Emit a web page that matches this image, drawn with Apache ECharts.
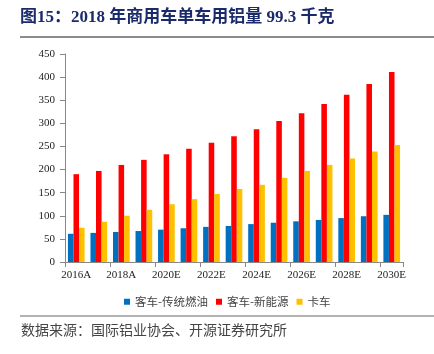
<!DOCTYPE html>
<html>
<head>
<meta charset="utf-8">
<script src="https://cdn.jsdelivr.net/npm/echarts@6/dist/echarts.min.js"></script>
<style>
  html, body { margin: 0; padding: 0; background: #fff; }
  #chart { width: 434px; height: 354px; }
</style>
</head>
<body>
<div id="chart"></div>
<script>
const years = ['2016A', '2017A', '2018A', '2019E', '2020E', '2021E', '2022E', '2023E',
  '2024E', '2025E', '2026E', '2027E', '2028E', '2029E', '2030E']
const busFuel = [61, 63, 65, 67, 70, 73, 76, 78, 82, 85, 88, 91, 95, 99, 102]
const busNev = [190, 197, 210, 221, 233, 245, 258, 272, 287, 305, 322, 342, 362, 385, 411]
const truck = [74, 87, 100, 113, 125, 136, 147, 158, 167, 182, 197, 210, 224, 239, 253]
const seriesNames = ['客车-传统燃油', '客车-新能源', '卡车']
const colors = ['#0070C0', '#FF0000', '#FFC000']

const chart = echarts.init(document.getElementById('chart'))
const serif = '"Liberation Serif", "Times New Roman", serif'
const cjk = '"Liberation Serif", "Noto Sans CJK SC", serif'

const option = {
  animation: false,
  title: [{
    text: '图15：2018 年商用车单车用铝量 99.3 千克',
    left: 20,
    top: 9,
    padding: 0,
    textStyle: { fontFamily: cjk, fontSize: 17, fontWeight: 'bold', color: '#1B2A6B' }
  }, {
    text: '数据来源：国际铝业协会、开源证券研究所',
    left: 21,
    top: 323,
    padding: 0,
    textStyle: { fontFamily: '"Noto Sans CJK SC", sans-serif', fontSize: 14, fontWeight: 'normal', color: '#444' }
  }],
  graphic: [
    { type: 'line', shape: { x1: 20, y1: 37, x2: 434, y2: 37 }, style: { stroke: '#666', lineWidth: 1.5 } },
    { type: 'line', shape: { x1: 20, y1: 316, x2: 434, y2: 316 }, style: { stroke: '#666', lineWidth: 1 } }
  ],
  legend: {
    data: seriesNames,
    left: 119,
    top: 291,
    itemWidth: 6,
    itemHeight: 6,
    itemGap: 8,
    icon: 'rect',
    textStyle: { fontFamily: '"Noto Sans CJK SC", sans-serif', fontSize: 11.5, color: '#444' }
  },
  grid: { left: 65, right: 31, top: 54, bottom: 92 },
  xAxis: {
    type: 'category',
    data: years,
    axisLine: { lineStyle: { color: '#888' } },
    axisTick: { show: true, lineStyle: { color: '#888' } },
    axisLabel: { interval: 1, color: '#222', fontFamily: serif, fontSize: 11, margin: 8 }
  },
  yAxis: {
    type: 'value',
    min: 0,
    max: 450,
    interval: 50,
    splitLine: { show: false },
    axisLine: { show: true, lineStyle: { color: '#888' } },
    axisTick: { show: true, lineStyle: { color: '#888' } },
    axisLabel: { color: '#222', fontFamily: serif, fontSize: 11, margin: 10 }
  },
  series: [busFuel, busNev, truck].map((d, i) => ({
    name: seriesNames[i],
    type: 'bar',
    data: d,
    barGap: '0%',
    barCategoryGap: '26%',
    itemStyle: { color: colors[i] }
  }))
}

chart.setOption(option)
</script>
</body>
</html>
